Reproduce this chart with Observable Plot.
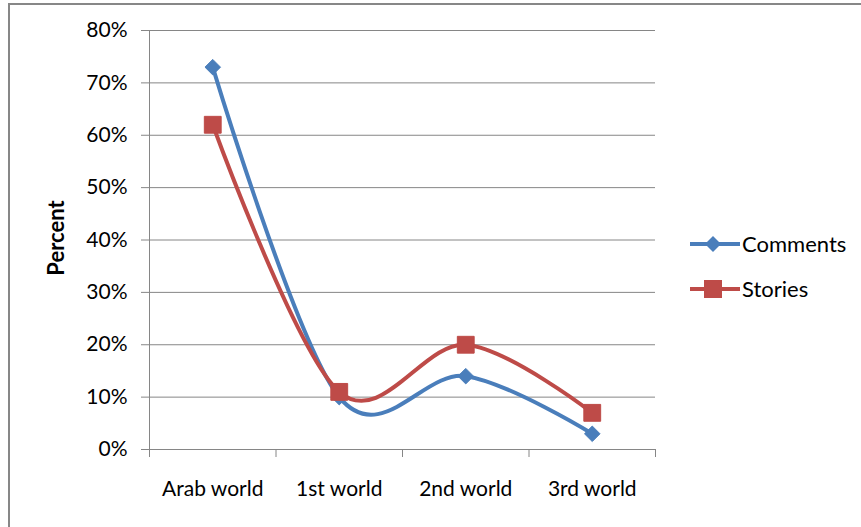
<!DOCTYPE html>
<html>
<head>
<meta charset="utf-8">
<script src="https://cdn.jsdelivr.net/npm/d3@7"></script>
<script src="https://cdn.jsdelivr.net/npm/@observablehq/plot@0.6"></script>
<style>
  html, body { margin: 0; padding: 0; background: #fff; overflow: hidden; }
  #wrap { position: relative; width: 861px; height: 527px; font-family: Lato, "Open Sans", sans-serif; }
  #border { position: absolute; left: 8px; top: 3px; width: 900px; height: 600px; border: 2px solid #878787; box-sizing: border-box; }
  #chart { position: absolute; left: 0; top: 0; }
  #ylabel { position: absolute; left: 55px; top: 238px; transform: translate(-50%, -50%) rotate(-90deg); font-weight: bold; font-size: 22px; color: #000; white-space: nowrap; }
  .leg { position: absolute; left: 690px; display: flex; align-items: center; font-size: 22px; color: #000; }
  .leg span { margin-left: 2px; }
</style>
</head>
<body>
<div id="wrap">
  <div id="border"></div>
  <div id="chart"></div>
  <div id="ylabel">Percent</div>
  <div id="legend"></div>
</div>
<script>
const categories = ["Arab world", "1st world", "2nd world", "3rd world"];
const seriesNames = ["Comments", "Stories"];
const comments = [0.73, 0.10, 0.14, 0.03];
const stories = [0.62, 0.11, 0.20, 0.07];
const yTicks = [0, 0.1, 0.2, 0.3, 0.4, 0.5, 0.6, 0.7, 0.8];
const colors = ["#4A7EBB", "#BE4B48"];
const symbols = ["diamond2", "square"];

const data = [];
[comments, stories].forEach((vals, s) => {
  vals.forEach((v, i) => data.push({series: seriesNames[s], idx: i + 0.5, value: v}));
});

const chart = Plot.plot({
  width: 861,
  height: 527,
  marginLeft: 149,
  marginRight: 206,
  marginTop: 30,
  marginBottom: 78,
  style: {fontFamily: "Lato, 'Open Sans', sans-serif", fontSize: "21px", color: "#000", background: "transparent"},
  x: {type: "linear", domain: [0, categories.length], axis: null, label: null},
  y: {domain: [0, 0.8], axis: null, label: null},
  color: {domain: seriesNames, range: colors},
  symbol: {domain: seriesNames, range: symbols},
  marks: [
    Plot.gridY(yTicks, {stroke: "#868686", strokeOpacity: 1}),
    Plot.frame({anchor: "left", stroke: "#868686"}),
    Plot.frame({anchor: "bottom", stroke: "#868686"}),
    Plot.axisY({ticks: yTicks, label: null, tickSize: 8, tickPadding: 14, stroke: "#868686", tickFormat: d => Math.round(d * 100) + "%", fill: "#000"}),
    Plot.axisX({ticks: d3.range(categories.length + 1), label: null, tickSize: 8, tickFormat: () => "", stroke: "#868686"}),
    Plot.axisX({ticks: categories.map((c, i) => i + 0.5), label: null, tickSize: 0, tickPadding: 32, tickFormat: d => categories[Math.floor(d)], fill: "#000"}),
    Plot.line(data, {x: "idx", y: "value", z: "series", stroke: "series", strokeWidth: 4, curve: "cardinal"}),
    Plot.dot(data.filter(d => d.series === "Comments"), {x: "idx", y: "value", symbol: "series", fill: "series", stroke: "series", strokeWidth: 1, r: 7}),
    Plot.dot(data.filter(d => d.series === "Stories"), {x: "idx", y: "value", symbol: "series", fill: "series", stroke: "series", strokeWidth: 1, r: 9.5})
  ]
});
document.getElementById("chart").appendChild(chart);

// legend
const legend = document.getElementById("legend");
const legendTops = [243, 288];
seriesNames.forEach((name, s) => {
  const div = document.createElement("div");
  div.className = "leg";
  div.style.top = (legendTops[s] - 13) + "px";
  const marker = s === 0
    ? `<path d="M23,-1 L31,7 L23,15 L15,7 Z" fill="${colors[s]}"/>`
    : `<rect x="14" y="-2" width="18" height="18" fill="${colors[s]}"/>`;
  div.innerHTML = `<svg width="50" height="24" viewBox="0 -5 50 24"><line x1="0" y1="7" x2="50" y2="7" stroke="${colors[s]}" stroke-width="4"/>${marker}</svg><span>${name}</span>`;
  legend.appendChild(div);
});
</script>
</body>
</html>
